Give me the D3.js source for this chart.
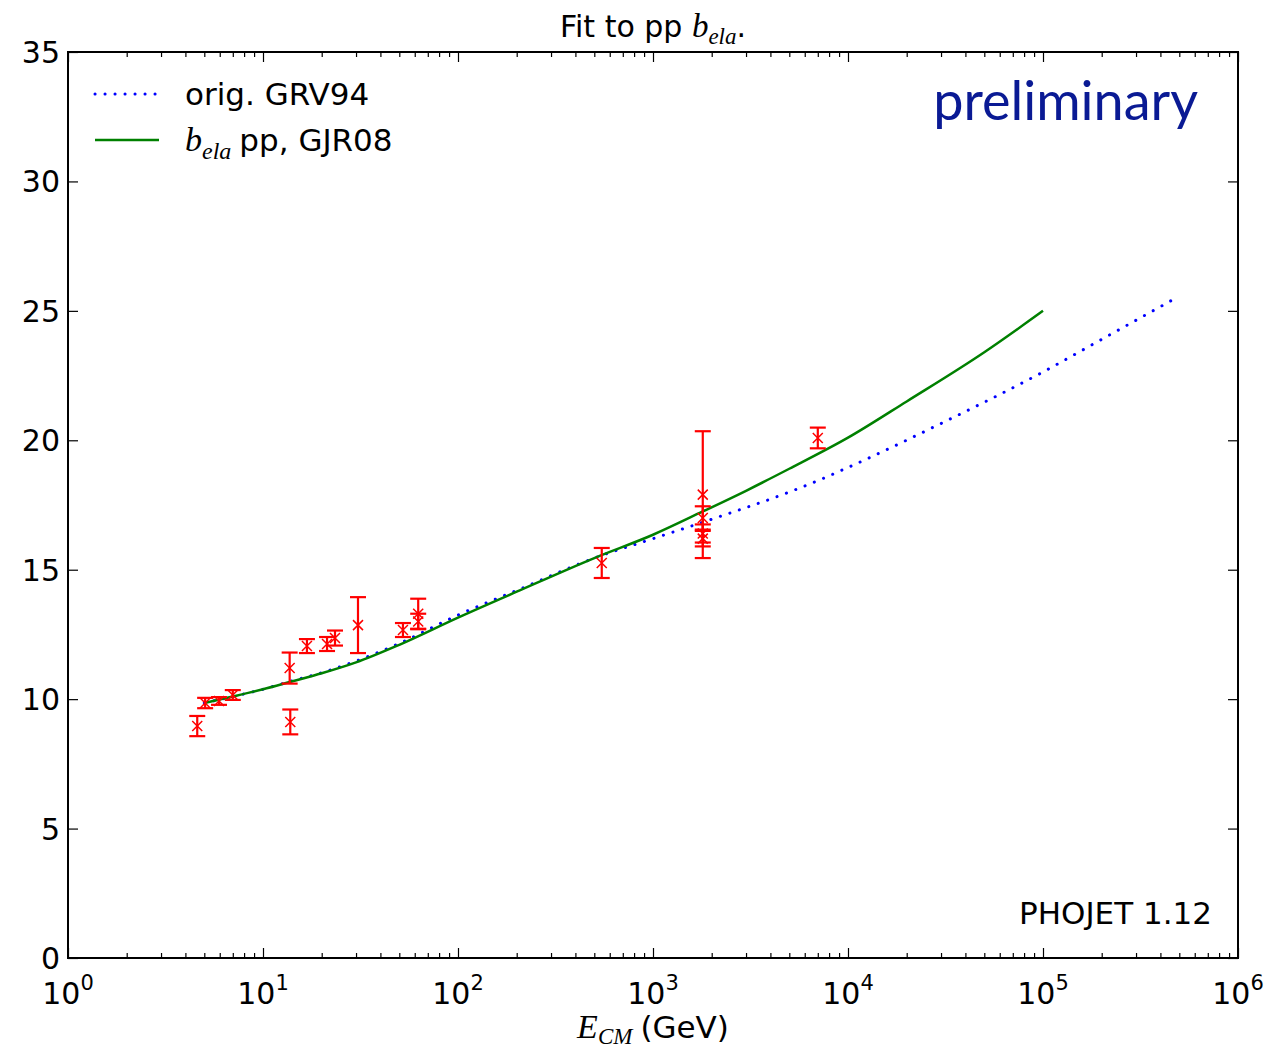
<!DOCTYPE html>
<html>
<head>
<meta charset="utf-8">
<script src="https://cdn.jsdelivr.net/npm/d3@7"></script>
<style>
  body { margin: 0; background: #fff; }
  text { font-family: "DejaVu Sans", sans-serif; }
  .math { font-family: "Liberation Serif", serif; font-style: italic; }
</style>
</head>
<body>
<svg id="plot" width="1274" height="1052"></svg>
<script>
// ---- data ----
// measured b_ela points (E_CM in GeV, value, error)
const dataE   = [4.6, 5.05, 5.95, 7.0, 13.7, 13.8, 16.8, 21.3, 23.4, 30.7, 52.2, 62.5, 62.5, 546, 1800, 1800, 1800, 1800, 7000];
const dataB   = [8.96, 9.85, 9.93, 10.16, 11.2, 9.12, 12.05, 12.13, 12.36, 12.86, 12.67, 13.3, 13.0, 15.26, 17.9, 17.0, 16.4, 16.2, 20.09];
const dataErr = [0.39, 0.2, 0.15, 0.19, 0.6, 0.48, 0.27, 0.27, 0.29, 1.08, 0.27, 0.58, 0.3, 0.58, 2.45, 0.45, 0.35, 0.3, 0.4];

// GJR08 fit curve (green)
const gjrE = [5, 7, 10, 14, 20, 30, 50, 100, 200, 500, 1000, 1800, 3000, 5000, 1e4, 2e4, 5e4, 1e5];
const gjrB = [9.85, 10.1, 10.38, 10.68, 11.0, 11.42, 12.1, 13.15, 14.15, 15.45, 16.35, 17.25, 18.05, 18.9, 20.1, 21.5, 23.4, 25.0];

// original GRV94 curve (blue dotted)
const grvE = [5, 7, 10, 14, 20, 30, 50, 100, 200, 500, 1000, 2000, 5000, 7000, 1e4, 3e4, 1e5, 2e5, 5e5];
const grvB = [9.85, 10.1, 10.38, 10.7, 11.02, 11.47, 12.15, 13.25, 14.2, 15.45, 16.2, 16.95, 18.0, 18.44, 18.95, 20.65, 22.64, 23.9, 25.57];

const yTicks = [0, 5, 10, 15, 20, 25, 30, 35];
const xDecades = [0, 1, 2, 3, 4, 5, 6];

// ---- layout ----
const svg = d3.select("#plot");
const margin = {top: 52, right: 36, bottom: 94, left: 68};
const width = 1274 - margin.left - margin.right;
const height = 1052 - margin.top - margin.bottom;
const g = svg.append("g").attr("transform", `translate(${margin.left},${margin.top})`);

const x = d3.scaleLog().domain([1, 1e6]).range([0, width]);
const y = d3.scaleLinear().domain([0, 35]).range([height, 0]);

// minor tick positions 2..9 per decade
const minor = [];
xDecades.slice(0, -1).forEach(d => {
  for (let k = 2; k <= 9; k++) minor.push(k * Math.pow(10, d));
});
const major = xDecades.map(d => Math.pow(10, d));

function styleAxis(sel) {
  sel.select(".domain").remove();
  sel.selectAll("line").attr("stroke", "#000").attr("stroke-width", 1.2);
}

// ticks inside, on all four sides
g.append("g").attr("transform", `translate(0,${height})`)
  .call(d3.axisBottom(x).tickValues(major).tickSizeInner(-10).tickFormat("")).call(styleAxis);
g.append("g").attr("transform", `translate(0,${height})`)
  .call(d3.axisBottom(x).tickValues(minor).tickSizeInner(-5).tickFormat("")).call(styleAxis);
g.append("g")
  .call(d3.axisTop(x).tickValues(major).tickSizeInner(-10).tickFormat("")).call(styleAxis);
g.append("g")
  .call(d3.axisTop(x).tickValues(minor).tickSizeInner(-5).tickFormat("")).call(styleAxis);
g.append("g")
  .call(d3.axisLeft(y).tickValues(yTicks).tickSizeInner(-10).tickFormat("")).call(styleAxis);
g.append("g").attr("transform", `translate(${width},0)`)
  .call(d3.axisRight(y).tickValues(yTicks).tickSizeInner(-10).tickFormat("")).call(styleAxis);

// tick labels
g.selectAll(".ylab").data(yTicks).enter().append("text")
  .attr("x", -8).attr("y", d => y(d) + 11)
  .attr("text-anchor", "end").attr("font-size", 30).text(d => d);

const xl = g.selectAll(".xlab").data(xDecades).enter().append("text")
  .attr("x", d => x(Math.pow(10, d))).attr("y", height + 46)
  .attr("text-anchor", "middle").attr("font-size", 30);
xl.append("tspan").text("10");
xl.append("tspan").attr("dy", -14).attr("font-size", 21).text(d => d);

// curves
const line = d3.line().x(d => x(d[0])).y(d => y(d[1])).curve(d3.curveMonotoneX);

g.append("path").datum(d3.zip(grvE, grvB))
  .attr("fill", "none").attr("stroke", "#0000ff").attr("stroke-width", 3)
  .attr("stroke-dasharray", "0.1 9.9").attr("stroke-linecap", "round")
  .attr("d", line);

g.append("path").datum(d3.zip(gjrE, gjrB))
  .attr("fill", "none").attr("stroke", "#008000").attr("stroke-width", 2.5)
  .attr("d", line);

// data points with error bars
const pts = d3.range(dataE.length).map(i => ({e: dataE[i], b: dataB[i], err: dataErr[i]}));
const red = "#ff0000";
const pg = g.selectAll(".pt").data(pts).enter().append("g")
  .attr("transform", d => `translate(${x(d.e)},0)`);
pg.append("line").attr("x1", 0).attr("x2", 0)
  .attr("y1", d => y(d.b - d.err)).attr("y2", d => y(d.b + d.err))
  .attr("stroke", red).attr("stroke-width", 2.2);
[-1, 1].forEach(s => {
  pg.append("line").attr("x1", -8).attr("x2", 8)
    .attr("y1", d => y(d.b + s * d.err)).attr("y2", d => y(d.b + s * d.err))
    .attr("stroke", red).attr("stroke-width", 2.2);
});
pg.append("path")
  .attr("d", d => `M-5,${y(d.b) - 5}L5,${y(d.b) + 5}M-5,${y(d.b) + 5}L5,${y(d.b) - 5}`)
  .attr("stroke", red).attr("stroke-width", 1.5).attr("fill", "none");

// frame
g.append("rect").attr("width", width).attr("height", height)
  .attr("fill", "none").attr("stroke", "#000").attr("stroke-width", 2);

// legend
const leg = g.append("g").attr("transform", "translate(27,42)");
leg.append("line").attr("x1", 0).attr("x2", 64).attr("y1", 0).attr("y2", 0)
  .attr("stroke", "#0000ff").attr("stroke-width", 3)
  .attr("stroke-dasharray", "0.1 9.9").attr("stroke-linecap", "round");
leg.append("text").attr("x", 90).attr("y", 11).attr("font-size", 31).text("orig. GRV94");
leg.append("line").attr("x1", 0).attr("x2", 64).attr("y1", 46).attr("y2", 46)
  .attr("stroke", "#008000").attr("stroke-width", 2.5);
const l2 = leg.append("text").attr("x", 90).attr("y", 57).attr("font-size", 31);
l2.append("tspan").attr("class", "math").attr("font-size", 34).text("b");
l2.append("tspan").attr("class", "math").attr("font-size", 24).attr("dy", 8).text("ela");
l2.append("tspan").attr("dy", -8).attr("dx", 8).text("pp, GJR08");

// annotations
g.append("text").attr("x", 1130).attr("y", 68).attr("text-anchor", "end")
  .attr("font-size", 54).attr("fill", "#0a1a94")
  .style("font-family", "Lato, sans-serif").text("preliminary");
g.append("text").attr("x", 1144).attr("y", 872).attr("text-anchor", "end")
  .attr("font-size", 31).text("PHOJET 1.12");

// title
const t = svg.append("text").attr("x", 653).attr("y", 37).attr("text-anchor", "middle").attr("font-size", 30);
t.append("tspan").text("Fit to pp ");
t.append("tspan").attr("class", "math").attr("font-size", 33).text("b");
t.append("tspan").attr("class", "math").attr("font-size", 23).attr("dy", 7).text("ela");
t.append("tspan").attr("dy", -7).text(".");

// x axis label
const xt = svg.append("text").attr("x", 653).attr("y", 1038).attr("text-anchor", "middle").attr("font-size", 31);
xt.append("tspan").attr("class", "math").attr("font-size", 34).text("E");
xt.append("tspan").attr("class", "math").attr("font-size", 23).attr("dy", 6).text("CM");
xt.append("tspan").attr("dy", -6).attr("dx", 8).text("(GeV)");
</script>
</body>
</html>
